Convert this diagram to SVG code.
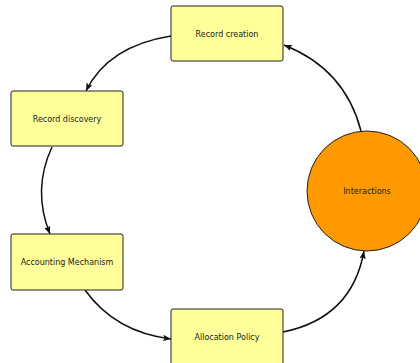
<svg xmlns="http://www.w3.org/2000/svg" width="420" height="363" viewBox="0 0 420 363">
<defs>
<marker id="ah" viewBox="0 0 10 10" refX="10" refY="5" markerWidth="8" markerHeight="8" markerUnits="userSpaceOnUse" orient="auto">
<path d="M0,1 L10,5 L0,9 L2,5 Z" fill="#111"/>
</marker>
<style>
.box{fill:#ffff99;stroke:#222;stroke-width:1}
.circ{fill:#ff9900;stroke:#222;stroke-width:1}
.lbl{font-family:"DejaVu Sans",sans-serif;font-size:8px;fill:#222;text-anchor:middle;dominant-baseline:central}
.edge{fill:none;stroke:#111;stroke-width:1.5;marker-end:url(#ah)}
</style>
</defs>
<rect width="420" height="363" fill="#fff"/>
<g id="connectors">
<path class="edge" d="M171,36 Q108,46 86,91"/>
<path class="edge" d="M52,147 Q32,190 50,234"/>
<path class="edge" d="M85,290 Q115,332 171,339"/>
<path class="edge" d="M283,332 Q352,318 364,251"/>
<path class="edge" d="M361,131 Q345,69 284,45"/>
</g>
<g id="record-creation">
<rect class="box" x="171" y="6" width="112" height="55" rx="2"/>
<text class="lbl" x="227" y="34">Record creation</text>
</g>
<g id="record-discovery">
<rect class="box" x="11" y="91" width="112" height="55" rx="2"/>
<text class="lbl" x="67" y="119">Record discovery</text>
</g>
<g id="accounting-mechanism">
<rect class="box" x="11" y="234" width="112" height="56" rx="2"/>
<text class="lbl" x="67" y="262">Accounting Mechanism</text>
</g>
<g id="allocation-policy">
<rect class="box" x="171" y="309" width="112" height="56" rx="2"/>
<text class="lbl" x="227" y="337">Allocation Policy</text>
</g>
<g id="interactions">
<circle class="circ" cx="367" cy="191" r="60"/>
<text class="lbl" x="367" y="191">Interactions</text>
</g>
</svg>
